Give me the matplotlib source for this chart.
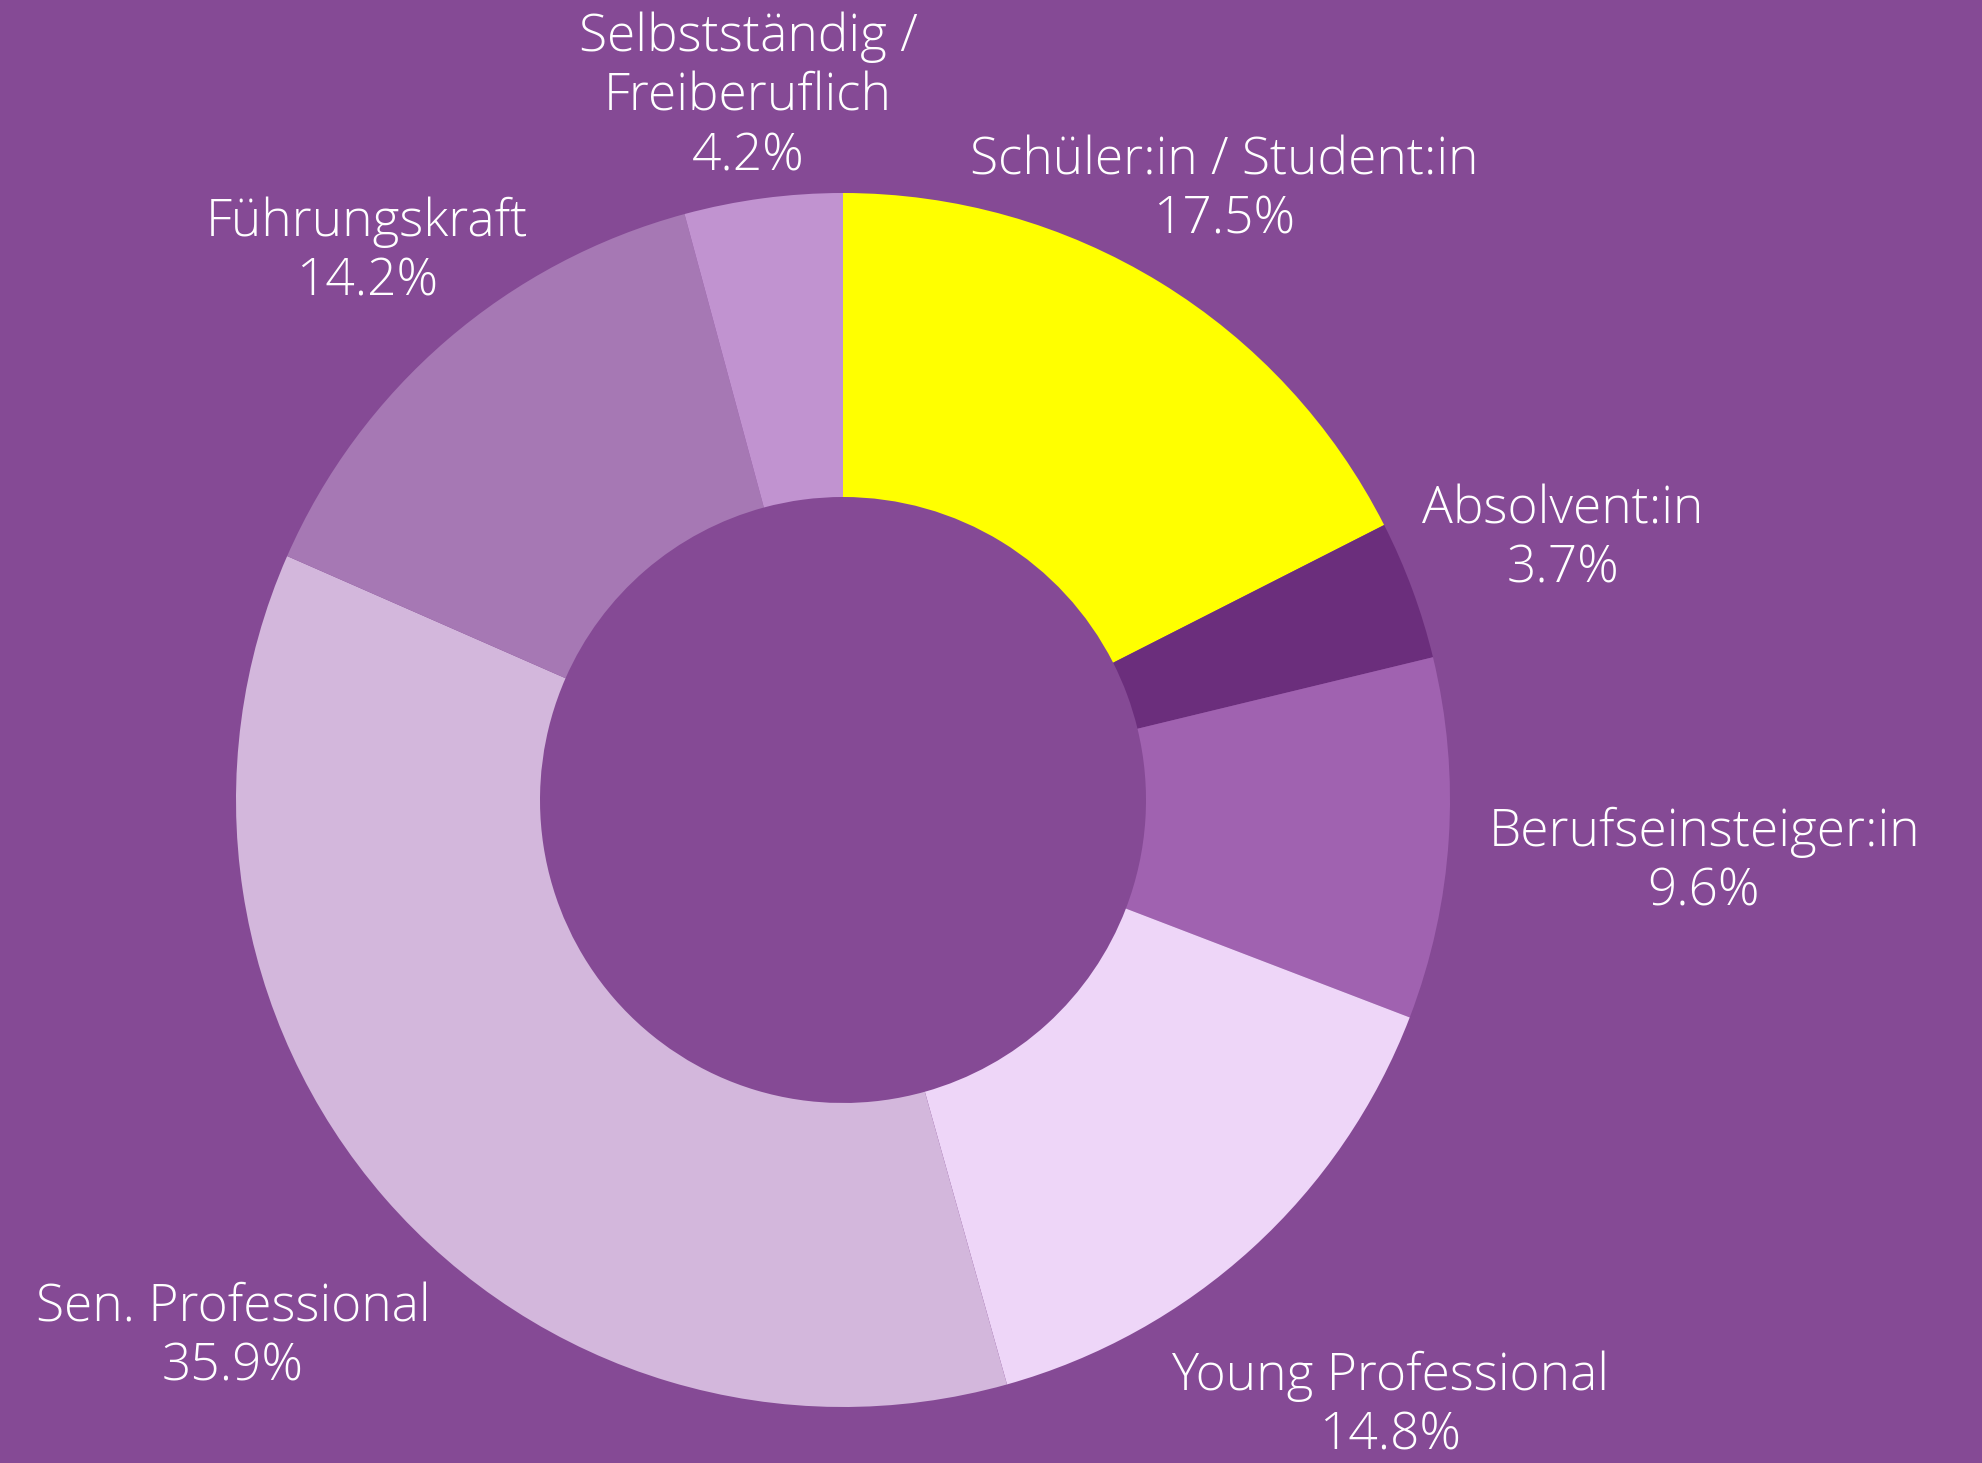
import matplotlib.pyplot as plt
from matplotlib import rcParams

rcParams['font.family'] = ['Open Sans', 'DejaVu Sans']

categories = ['Schüler:in / Student:in', 'Absolvent:in', 'Berufseinsteiger:in',
              'Young Professional', 'Sen. Professional', 'Führungskraft',
              'Selbstständig /\nFreiberuflich']
shares = [17.5, 3.7, 9.6, 14.8, 35.9, 14.2, 4.2]
colors = ['#FFFF00', '#6B2E7C', '#A062B0', '#EED6F8', '#D3B7DC', '#A678B4', '#C193D0']

# label centres in pixel space (x, y from top)
label_pos = [(1224, 190), (1563, 539), (1704, 862), (1390, 1406),
             (233, 1337), (367, 252), (748, 97)]

bg = '#854A95'
W, H = 1982, 1463
fig = plt.figure(figsize=[W / 100, H / 100], dpi=100, facecolor=bg)
ax = fig.add_axes([0, 0, 1, 1])
ax.set_facecolor(bg)

ax.pie(shares, colors=colors, startangle=90, counterclock=False,
       center=(843, H - 800), radius=607,
       wedgeprops=dict(width=304, linewidth=0))

ax.set_xlim(0, W)
ax.set_ylim(0, H)
ax.set_aspect('equal')
ax.axis('off')

for name, val, (x, y) in zip(categories, shares, label_pos):
    ax.text(x, H - y, f'{name}\n{val:.1f}%', ha='center', va='center',
            color='white', fontsize=37, fontweight='light', linespacing=1.2)

plt.savefig('out.png', dpi=100, facecolor=bg)
